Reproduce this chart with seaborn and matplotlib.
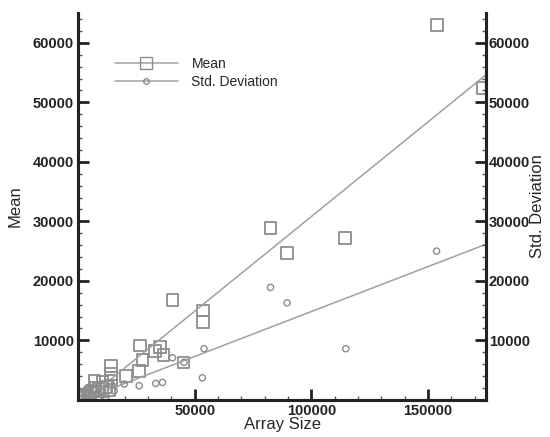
import matplotlib
matplotlib.use("Agg")
import matplotlib.pyplot as plt
from matplotlib.lines import Line2D
from matplotlib.ticker import MultipleLocator
import numpy as np
import pandas as pd
import seaborn as sns

# data
mean_size = [1000, 2000, 3000, 4000, 5000, 6000, 7500, 9000, 10500, 12000, 13500,
             7000, 10500, 14100, 14000, 14000, 20500, 26200, 27600, 26600, 33000,
             35200, 36600, 45200, 40500, 53600, 53600, 82500, 89600, 114500,
             153900, 173500]
mean_val = [300, 600, 900, 500, 1200, 1500, 2000, 1800, 1400, 2200, 1700,
            3200, 3100, 3200, 4350, 5650, 4000, 4800, 6700, 9150, 8200,
            8900, 7500, 6300, 16800, 15000, 13100, 28900, 24700, 27200,
            63000, 52400]
std_size = [1000, 2000, 3000, 4500, 6000, 8000, 10000, 12000, 15500, 19800,
            26200, 33300, 36200, 40500, 45400, 53300, 54000, 82500, 89600,
            114800, 153700, 14000, 7000]
std_val = [200, 400, 500, 700, 900, 1000, 1300, 500, 1500, 2660,
           2370, 2760, 2930, 7070, 6300, 3700, 8600, 18900, 16300,
           8600, 25000, 2800, 1800]

# linear fits (slope, intercept)
mean_fit = (0.318, -1000)
std_fit = (0.151, -260)
fit_x = [3200, 175000]

mean_df = pd.DataFrame({"size": mean_size, "value": mean_val})
std_df = pd.DataFrame({"size": std_size, "value": std_val})

sns.set_style("ticks")
plt.rcParams["font.family"] = ["Liberation Sans", "DejaVu Sans"]

fig = plt.figure(figsize=(5.5, 4.37), dpi=100)
ax = fig.add_axes([0.142, 0.085, 0.742, 0.885])
ax2 = ax.twinx()

gray = "#8c8c8c"
line_gray = "#a0a0a0"

fx = np.array(fit_x, dtype=float)
sns.lineplot(x=fx, y=mean_fit[0] * fx + mean_fit[1], ax=ax, color=line_gray, lw=1.1)
sns.lineplot(x=fx, y=std_fit[0] * fx + std_fit[1], ax=ax, color=line_gray, lw=1.1)

sns.scatterplot(data=mean_df, x="size", y="value", ax=ax, marker="s", s=70,
                facecolor="none", edgecolor=gray, linewidth=1.3)
sns.scatterplot(data=std_df, x="size", y="value", ax=ax2, marker="o", s=20,
                facecolor="none", edgecolor=gray, linewidth=1.0)

for a in (ax, ax2):
    a.set_xlim(0, 175000)
    a.set_ylim(0, 65000)
    a.yaxis.set_major_locator(MultipleLocator(10000))
    a.yaxis.set_minor_locator(MultipleLocator(2000))
    a.spines["top"].set_visible(False)
    for s in ("left", "right", "bottom"):
        a.spines[s].set_linewidth(2.2)
        a.spines[s].set_color("#222222")

ax.xaxis.set_major_locator(MultipleLocator(50000))
ax.xaxis.set_minor_locator(MultipleLocator(10000))
ax.set_xticks([50000, 100000, 150000])
ax.set_yticks([10000, 20000, 30000, 40000, 50000, 60000])
ax2.set_yticks([10000, 20000, 30000, 40000, 50000, 60000])

ax.tick_params(axis="both", which="major", direction="in", length=8, width=2,
               labelsize=10.5, colors="#222222", pad=3)
ax.tick_params(axis="both", which="minor", direction="in", length=3, width=1,
               colors="#555555")
ax.tick_params(axis="y", right=False)
ax2.tick_params(axis="y", which="major", direction="in", length=8, width=2,
                labelsize=10.5, colors="#222222", pad=2)
ax2.tick_params(axis="y", which="minor", direction="in", length=3, width=1,
                colors="#555555")

for lab in ax.get_xticklabels() + ax.get_yticklabels() + ax2.get_yticklabels():
    lab.set_fontweight("bold")

ax.set_xlabel("Array Size", fontsize=12, labelpad=-1)
ax.set_ylabel("Mean", fontsize=12, labelpad=7)
ax2.set_ylabel("Std. Deviation", fontsize=12, labelpad=0)

handles = [
    Line2D([], [], color=line_gray, lw=1.1, marker="s", markersize=8,
           markerfacecolor="none", markeredgecolor=gray),
    Line2D([], [], color=line_gray, lw=1.1, marker="o", markersize=4,
           markerfacecolor="none", markeredgecolor=gray),
]
ax.legend(handles, ["Mean", "Std. Deviation"], loc="upper left",
          bbox_to_anchor=(0.06, 0.92), frameon=False, fontsize=10,
          handlelength=4.5, handletextpad=1.0, labelspacing=0.3)

fig.savefig("out.png", dpi=100)
